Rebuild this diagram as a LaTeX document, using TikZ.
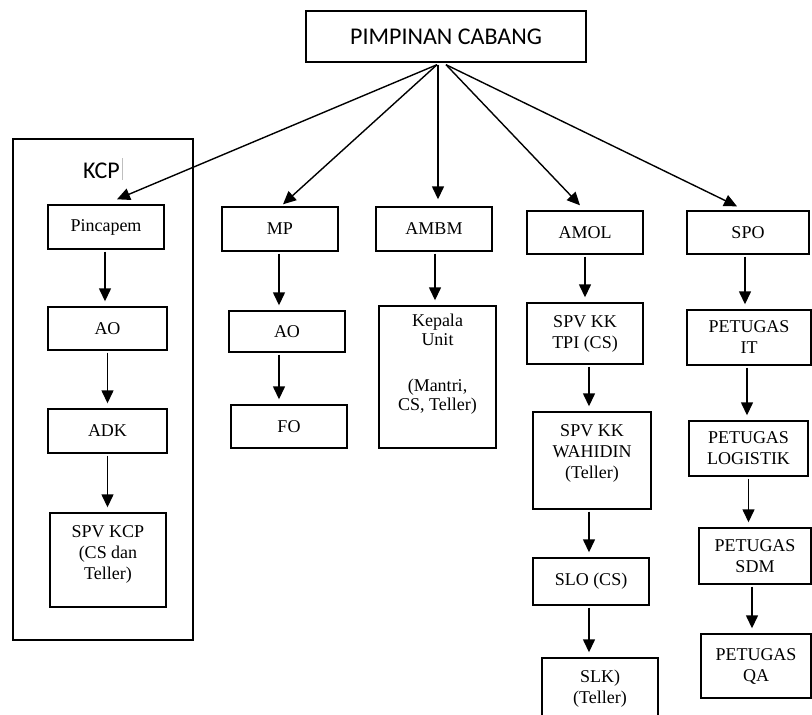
\documentclass[tikz,border=0pt]{standalone}
\usepackage{fontspec}
\setmainfont{Liberation Serif}
\newfontfamily\calib{Carlito}
\usetikzlibrary{arrows.meta,calc}
\begin{document}
\begin{tikzpicture}[x=1pt,y=-1pt,
  box/.style={draw, line width=1.4pt, inner sep=0pt, align=center,
    font=\fontsize{18}{21}\selectfont},
  txt/.style={inner sep=0pt, align=center, font=\fontsize{18}{21}\selectfont},
  arr/.style={line width=1.4pt, -{Triangle[width=12pt,length=13pt]},
    shorten >=5pt, shorten <=2pt},
  tarr/.style={line width=1.4pt, -{Triangle[width=12pt,length=13pt]}}]
\useasboundingbox (0,0) rectangle (812,715);
% top
\node[box, minimum width=280pt, minimum height=51pt, font=\calib\fontsize{24}{28}\selectfont]
  (pc) at (446,36.5) {PIMPINAN CABANG};
% KCP group
\draw[line width=1.4pt] (13,139) rectangle (193,640);
\node[inner sep=0pt, font=\calib\fontsize{24}{28}\selectfont] (kcp) at (101.5,171) {KCP};
\draw[gray!50, line width=0.6pt] (122,158) -- (122,180);
\node[box, minimum width=116pt, minimum height=44pt] (pin) at (106,227) {Pincapem};
\node[box, minimum width=119pt, minimum height=43pt] (ao1) at (107.5,328.5) {AO};
\node[box, minimum width=119pt, minimum height=44pt] (adk) at (107.5,431) {ADK};
\node[box, minimum width=116pt, minimum height=94pt] (spv) at (108,560) {};
\node[txt] (spvt) at (108,554) {SPV KCP\\(CS dan\\Teller)};
% MP
\node[box, minimum width=116pt, minimum height=44pt] (mp) at (280,229) {MP};
\node[box, minimum width=116pt, minimum height=41pt] (ao2) at (287,331.5) {AO};
\node[box, minimum width=116pt, minimum height=43pt] (fo) at (289,426.5) {FO};
% AMBM
\node[box, minimum width=116pt, minimum height=44pt] (ambm) at (434,229) {AMBM};
\node[box, minimum width=117pt, minimum height=142pt] (ku) at (437.5,377) {};
\node[txt, anchor=north, font=\fontsize{18}{19}\selectfont] (kut) at (437.5,314)
  {Kepala\\Unit\\[27pt](Mantri,\\CS, Teller)};
% AMOL
\node[box, minimum width=116pt, minimum height=43pt] (amol) at (585,232.5) {AMOL};
\node[box, minimum width=116pt, minimum height=61pt] (tpi) at (585,333.5) {SPV KK\\TPI (CS)};
\node[box, minimum width=118pt, minimum height=97pt] (wah) at (592,460.5) {};
\node[txt] (waht) at (592,453) {SPV KK\\WAHIDIN\\(Teller)};
\node[box, minimum width=116pt, minimum height=47pt] (slo) at (591,581.5) {SLO (CS)};
\node[box, minimum width=116pt, minimum height=102pt] (slk) at (600,709) {};
\node[txt] (slkt) at (600,689) {SLK)\\(Teller)};
% SPO
\node[box, minimum width=122pt, minimum height=43pt] (spo) at (748,232.5) {SPO};
\node[box, minimum width=124pt, minimum height=55pt] (it) at (749,337.5) {PETUGAS\\IT};
\node[box, minimum width=119pt, minimum height=55pt] (log) at (748.5,448.5) {PETUGAS\\LOGISTIK};
\node[box, minimum width=112pt, minimum height=56pt] (sdm) at (755,556) {PETUGAS\\SDM};
\node[box, minimum width=110pt, minimum height=64pt] (qa) at (756,666) {PETUGAS\\QA};
% top connectors
\coordinate (sl) at ([xshift=-9pt,yshift=-2pt]pc.south);
\coordinate (sv) at ([xshift=-8pt,yshift=-2pt]pc.south);
\coordinate (sr) at ([xshift=0pt,yshift=-2pt]pc.south);
\draw[tarr] (sl) -- ([xshift=11pt,yshift=5pt]pin.north);
\draw[tarr] (sl) -- ([xshift=3pt,yshift=2pt]mp.north);
\draw[tarr] (sv) -- ([xshift=4pt,yshift=7pt]ambm.north);
\draw[tarr] (sr) -- ([xshift=-5pt,yshift=5pt]amol.north);
\draw[tarr] (sr) -- ([xshift=-11pt,yshift=4pt]spo.north);
% vertical connectors
\draw[arr] ([xshift=-1pt]pin.south) -- ([xshift=-1pt]pin.south |- ao1.north);
\draw[arr] (ao1.south) -- (ao1.south |- adk.north);
\draw[arr] (adk.south) -- (adk.south |- spv.north);
\draw[arr] ([xshift=-1pt]mp.south) -- ([xshift=-1pt]mp.south |- ao2.north);
\draw[arr] ([xshift=-8pt]ao2.south) -- ([xshift=-8pt]ao2.south |- fo.north);
\draw[arr] ([xshift=1pt]ambm.south) -- ([xshift=1pt]ambm.south |- ku.north);
\draw[arr] (amol.south) -- (amol.south |- tpi.north);
\draw[arr] ([xshift=4pt]tpi.south) -- ([xshift=4pt]tpi.south |- wah.north);
\draw[arr] ([xshift=-3pt]wah.south) -- ([xshift=-3pt]wah.south |- slo.north);
\draw[arr] ([xshift=-2pt]slo.south) -- ([xshift=-2pt]slo.south |- slk.north);
\draw[arr] ([xshift=-3pt]spo.south) -- ([xshift=-3pt]spo.south |- it.north);
\draw[arr] ([xshift=-2pt]it.south) -- ([xshift=-2pt]it.south |- log.north);
\draw[arr] (log.south) -- (log.south |- sdm.north);
\draw[arr] ([xshift=-3pt]sdm.south) -- ([xshift=-3pt]sdm.south |- qa.north);
\end{tikzpicture}
\end{document}
